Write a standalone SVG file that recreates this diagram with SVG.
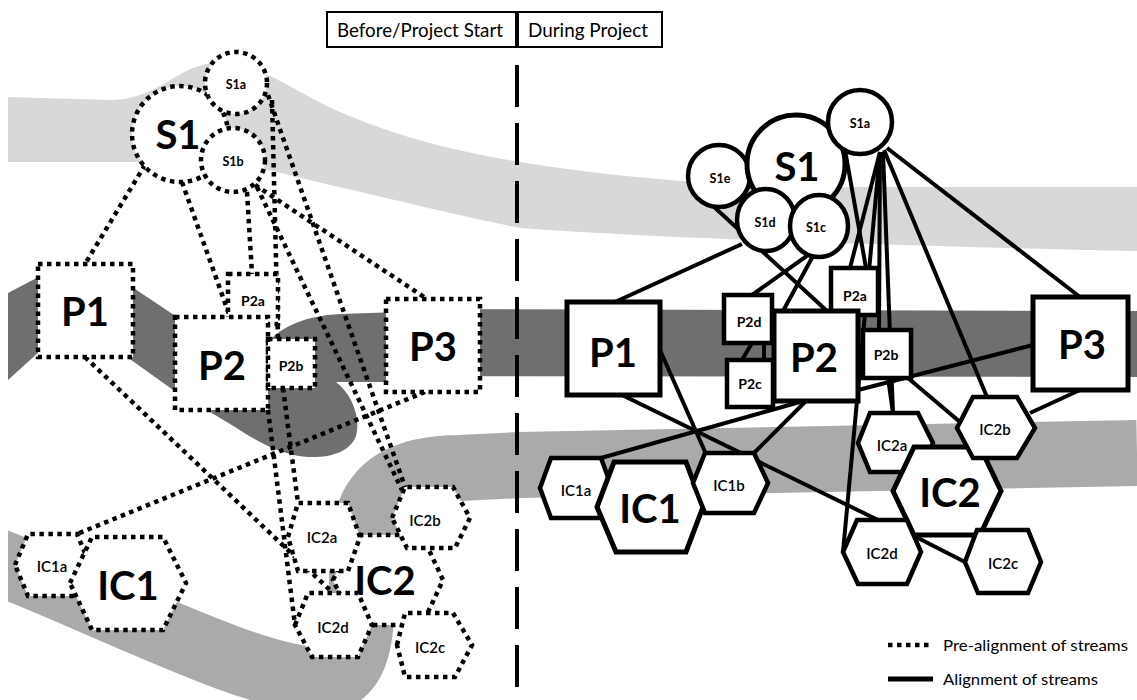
<svg xmlns="http://www.w3.org/2000/svg" width="1137" height="700" viewBox="0 0 1137 700">
<style>
.bg{fill:#ffffff}
.dot{fill:#ffffff;stroke:#000;stroke-width:4.5;stroke-dasharray:4.5 4.5}
.sol{fill:#ffffff;stroke:#000;stroke-width:5}
.sols{fill:#ffffff;stroke:#000;stroke-width:4.5}
.cd{fill:none;stroke:#000;stroke-width:4.5;stroke-dasharray:4.5 4.5}
.cs{fill:none;stroke:#000;stroke-width:4}
.big{font-family:Lato,'Liberation Sans',sans-serif;font-weight:bold;font-size:40px;text-anchor:middle;dominant-baseline:central}
.sm{font-family:Lato,'Liberation Sans',sans-serif;font-weight:bold;font-size:14px;text-anchor:middle;dominant-baseline:central}
.xs{font-family:Lato,'Liberation Sans',sans-serif;font-weight:bold;font-size:12.5px;text-anchor:middle;dominant-baseline:central}
.ic{font-family:Lato,'Liberation Sans',sans-serif;font-weight:600;font-size:15px;text-anchor:middle;dominant-baseline:central}
.hd{font-family:Lato,'Liberation Sans',sans-serif;font-size:19px}
.lg{font-family:Lato,'Liberation Sans',sans-serif;font-size:16px}
</style>
<defs>
<clipPath id="clipBands"><rect x="8" y="0" width="1129" height="700"/></clipPath>
</defs>
<rect class="bg" x="0" y="0" width="1137" height="700"/>
<g id="streams" clip-path="url(#clipBands)">
<path fill="#d8d8d8" d="M 8,97 L 110,100 C 160,100 178,63 218,63 C 262,63 290,90 340,112 C 400,138 460,152 520,162 C 620,178 720,186 820,187 L 1137,187 L 1137,251 C 1000,248 900,245 800,242 C 700,238 600,234 520,228 C 450,214 380,196 330,185 C 290,175 255,165 215,162 L 8,162 Z"/>
<path fill="none" stroke="#aaaaaa" stroke-width="66" d="M -20,555 C 100,600 250,680 320,680 C 365,680 362,620 362,560 C 362,500 385,468 460,468 L 520,465 L 1137,453"/>
<path fill="#6f6f6f" d="M 8,293 L 50,271 L 50,342 L 8,380 Z"/>
<path fill="#6f6f6f" d="M 120,279 L 180,319 L 240,330 L 272,338 C 285,326 305,316 340,314 L 400,312 L 400,382 L 336,382 C 352,394 361,418 356,436 C 350,452 330,458 308,457 C 280,455 255,440 235,427 L 205,409 L 176,392 L 120,352 Z"/>
<path fill="#6f6f6f" d="M 395,309 L 1137,311 L 1137,377 L 395,376 Z"/>
</g>
<g id="header">
<rect x="327" y="12" width="190" height="35" fill="#fff" stroke="#000" stroke-width="2"/>
<rect x="517" y="12" width="145" height="35" fill="#fff" stroke="#000" stroke-width="2"/>
<text class="hd" x="337" y="37" textLength="166" lengthAdjust="spacingAndGlyphs">Before/Project Start</text>
<text class="hd" x="528" y="37" textLength="120" lengthAdjust="spacingAndGlyphs">During Project</text>
<line x1="517" y1="12" x2="517" y2="47" stroke="#000" stroke-width="4"/>
<line x1="517" y1="65" x2="517" y2="700" stroke="#000" stroke-width="4" stroke-dasharray="42 16"/>
</g>
<g id="connectors">
<line class="cd" x1="145" y1="165" x2="85" y2="264"/>
<line class="cd" x1="182" y1="182" x2="230" y2="317"/>
<line class="cd" x1="247" y1="192" x2="252" y2="274"/>
<line class="cd" x1="272" y1="100" x2="278" y2="339"/>
<line class="cd" x1="268" y1="95" x2="405" y2="487"/>
<line class="cd" x1="257" y1="187" x2="402" y2="490"/>
<line class="cd" x1="255" y1="185" x2="427" y2="299"/>
<line class="cd" x1="85" y1="357" x2="333" y2="593"/>
<line class="cd" x1="425" y1="392" x2="77" y2="534"/>
<line class="cd" x1="283" y1="388" x2="298" y2="503"/>
<line class="cd" x1="268" y1="410" x2="295" y2="625"/>
<line class="cs" x1="742" y1="244" x2="615" y2="302"/>
<line class="cs" x1="712" y1="205" x2="827" y2="311"/>
<line class="cs" x1="808" y1="255" x2="752" y2="295"/>
<line class="cs" x1="813" y1="256" x2="783" y2="311"/>
<line class="cs" x1="752" y1="343" x2="742" y2="360"/>
<line class="cs" x1="764" y1="343" x2="764" y2="360"/>
<line class="cs" x1="845" y1="150" x2="866" y2="268"/>
<line class="cs" x1="880" y1="152" x2="850" y2="268"/>
<line class="cs" x1="880" y1="152" x2="879" y2="330"/>
<line class="cs" x1="883" y1="152" x2="893" y2="413"/>
<line class="cs" x1="880" y1="152" x2="843" y2="552"/>
<line class="cs" x1="884" y1="150" x2="987" y2="397"/>
<line class="cs" x1="887" y1="148" x2="1080" y2="297"/>
<line class="cs" x1="660" y1="350" x2="706" y2="454"/>
<line class="cs" x1="622" y1="395" x2="878" y2="520"/>
<line class="cs" x1="800" y1="402" x2="601" y2="458"/>
<line class="cs" x1="805" y1="402" x2="754" y2="453"/>
<line class="cs" x1="1033" y1="345" x2="858" y2="390"/>
<line class="cs" x1="888" y1="378" x2="893" y2="413"/>
<line class="cs" x1="908" y1="378" x2="960" y2="422"/>
<line class="cs" x1="1080" y1="390" x2="1030" y2="413"/>
<line class="cs" x1="912" y1="535" x2="965" y2="562"/>
</g>
<g id="L-S1"><circle class="dot" cx="180" cy="134" r="48"/><text class="big" x="178" y="134">S1</text></g>
<g id="L-S1a"><circle class="dot" cx="236" cy="83" r="31"/><text class="xs" x="236" y="84">S1a</text></g>
<g id="L-S1b"><circle class="dot" cx="233" cy="160" r="32"/><text class="xs" x="233" y="161">S1b</text></g>
<g id="L-P1"><rect class="dot" x="38" y="264" width="95" height="93"/><text class="big" x="85" y="311">P1</text></g>
<g id="L-P2a"><rect class="dot" x="228" y="274" width="50" height="50"/><text class="sm" x="253" y="300">P2a</text></g>
<g id="L-P2"><rect class="dot" x="175" y="317" width="93" height="93"/><text class="big" x="222" y="365">P2</text></g>
<g id="L-P2b"><rect class="dot" x="268" y="339" width="47" height="49"/><text class="sm" x="291" y="365">P2b</text></g>
<g id="L-P3"><rect class="dot" x="386" y="299" width="94" height="93"/><text class="big" x="433" y="346">P3</text></g>
<g id="L-IC1a"><polygon class="dot" points="15,565 28,534 77,534 90,565 77,596 28,596"/><text class="ic" x="52" y="566">IC1a</text></g>
<g id="L-IC1"><polygon class="dot" points="70,583 92,537 163,537 186,583 163,630 92,630"/><text class="big" x="128" y="585">IC1</text></g>
<g id="L-IC2"><polygon class="dot" points="333,580 355,535 422,535 443,580 422,625 355,625"/><text class="big" x="385" y="580">IC2</text></g>
<g id="L-IC2a"><polygon class="dot" points="288,537 298,503 348,503 360,537 348,571 298,571"/><text class="ic" x="322" y="537">IC2a</text></g>
<g id="L-IC2d"><polygon class="dot" points="295,625 308,593 358,593 372,625 358,657 312,657"/><text class="ic" x="333" y="627">IC2d</text></g>
<g id="L-IC2b"><polygon class="dot" points="392,518 405,487 453,487 470,518 455,548 407,548"/><text class="ic" x="425" y="520">IC2b</text></g>
<g id="L-IC2c"><polygon class="dot" points="397,645 405,613 453,613 472,645 455,677 405,677"/><text class="ic" x="430" y="647">IC2c</text></g>
<g id="R-S1e"><circle class="sols" cx="719" cy="176" r="31"/><text class="xs" x="720" y="178">S1e</text></g>
<g id="R-S1"><circle class="sol" cx="796" cy="164" r="49"/><text class="big" x="797" y="166">S1</text></g>
<g id="R-S1a"><circle class="sols" cx="860" cy="122" r="32"/><text class="xs" x="860" y="123">S1a</text></g>
<g id="R-S1d"><ellipse class="sols" cx="766" cy="220" rx="29" ry="31"/><text class="xs" x="765" y="222">S1d</text></g>
<g id="R-S1c"><ellipse class="sols" cx="819" cy="226" rx="29" ry="31"/><text class="xs" x="816" y="227">S1c</text></g>
<g id="R-P1"><rect class="sol" x="567" y="302" width="93" height="93"/><text class="big" x="613" y="352">P1</text></g>
<g id="R-P2a"><rect class="sols" x="831" y="268" width="47" height="47"/><text class="sm" x="855" y="295">P2a</text></g>
<g id="R-P2d"><rect class="sols" x="724" y="295" width="48" height="48"/><text class="sm" x="749" y="321">P2d</text></g>
<g id="R-P2c"><rect class="sols" x="727" y="360" width="46" height="47"/><text class="sm" x="750" y="383">P2c</text></g>
<g id="R-P2"><rect class="sol" x="774" y="311" width="84" height="90"/><text class="big" x="814" y="357">P2</text></g>
<g id="R-P2b"><rect class="sols" x="863" y="330" width="48" height="48"/><text class="sm" x="886" y="354">P2b</text></g>
<g id="R-P3"><rect class="sol" x="1033" y="297" width="95" height="93"/><text class="big" x="1082" y="344">P3</text></g>
<g id="R-IC1a"><polygon class="sols" points="540,488 551,458 601,458 612,488 599,518 551,518"/><text class="ic" x="576" y="490">IC1a</text></g>
<g id="R-IC1"><polygon class="sol" points="597,507 614,462 686,462 703,507 686,552 616,552"/><text class="big" x="650" y="508">IC1</text></g>
<g id="R-IC1b"><polygon class="sols" points="693,483 705,453 754,453 768,483 754,513 705,513"/><text class="ic" x="729" y="485">IC1b</text></g>
<g id="R-IC2a"><polygon class="sols" points="858,443 870,413 918,413 933,443 918,472 870,472"/><text class="ic" x="892" y="445">IC2a</text></g>
<g id="R-IC2"><polygon class="sol" points="893,491 914,447 980,447 1001,491 980,535 914,535"/><text class="big" x="950" y="492">IC2</text></g>
<g id="R-IC2b"><polygon class="sols" points="957,428 973,397 1017,397 1035,428 1017,458 973,458"/><text class="ic" x="995" y="429">IC2b</text></g>
<g id="R-IC2d"><polygon class="sols" points="843,552 857,520 907,520 921,552 907,584 858,584"/><text class="ic" x="882" y="553">IC2d</text></g>
<g id="R-IC2c"><polygon class="sols" points="965,562 977,530 1028,530 1041,562 1028,593 978,593"/><text class="ic" x="1003" y="563">IC2c</text></g>
<g id="legend">
<line class="cd" x1="888" y1="645" x2="933" y2="645"/>
<text class="lg" x="943" y="651" textLength="185" lengthAdjust="spacingAndGlyphs">Pre-alignment of streams</text>
<line x1="888" y1="679" x2="933" y2="679" stroke="#000" stroke-width="5"/>
<text class="lg" x="943" y="685" textLength="155" lengthAdjust="spacingAndGlyphs">Alignment of streams</text>
</g>
</svg>
